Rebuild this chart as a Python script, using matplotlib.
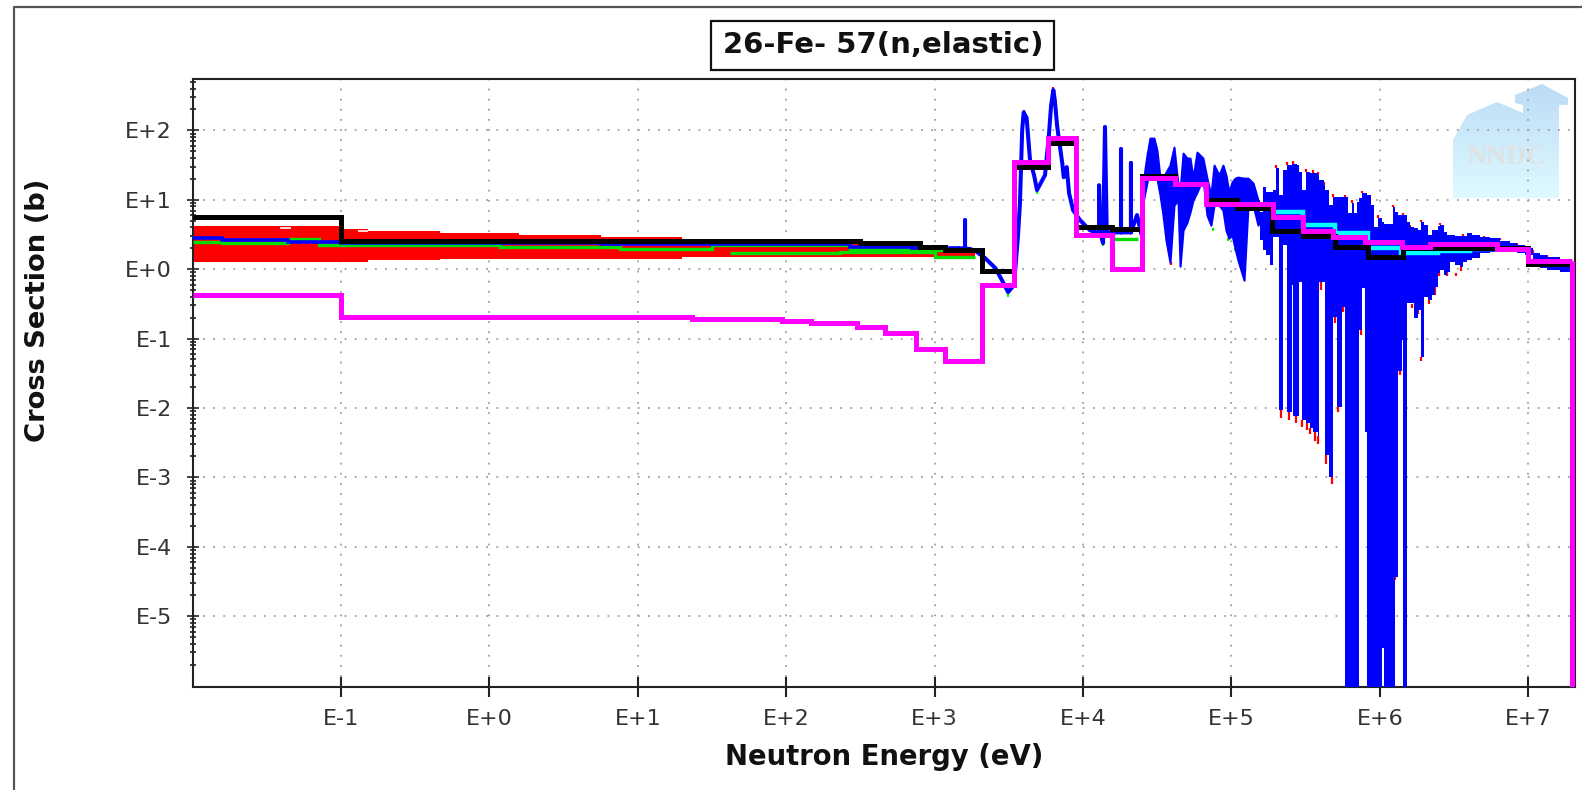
import numpy as np
import matplotlib
matplotlib.use("Agg")
import matplotlib.pyplot as plt
from matplotlib.lines import Line2D
from matplotlib.patches import Polygon, Rectangle

# all values are log10(energy / eV) and log10(cross section / b)
x_ticks = [-1, 0, 1, 2, 3, 4, 5, 6, 7]
x_labels = ["E-1", "E+0", "E+1", "E+2", "E+3", "E+4", "E+5", "E+6", "E+7"]
y_ticks = [-5, -4, -3, -2, -1, 0, 1, 2]
y_labels = ["E-5", "E-4", "E-3", "E-2", "E-1", "E+0", "E+1", "E+2"]

black_edges = [-2, -1, 2.5, 2.9, 3.07, 3.32, 3.535, 3.764, 3.95, 4.195, 4.395, 4.62, 4.83, 5.04, 5.27, 5.48, 5.7, 5.92, 6.157, 7.0, 7.3]
black_vals = [.75, .40, .375, .32, .27, -.03, 1.47, 1.82, .605, .576, 1.34, 1.22, 1.0, .88, .55, .475, .32, .17, .30, .07]

magenta_edges = [-2, -1, 1.365, 1.97, 2.17, 2.48, 2.665, 2.875, 3.07, 3.32, 3.535, 3.764, 3.95, 4.195, 4.395, 4.62, 4.83, 5.28, 5.48, 5.685, 5.9, 6.15, 6.34, 6.79, 7.0, 7.296]
magenta_vals = [-.375, -.69, -.72, -.75, -.78, -.835, -.92, -1.15, -1.325, -.23, 1.54, 1.89, .49, 0, 1.31, 1.225, .935, .75, .55, .46, .39, .32, .36, .29, .115]

cyan_edges = [5.26, 5.48, 5.70, 5.92, 6.14, 6.39, 6.61, 6.79]
cyan_vals = [.82, .63, .52, .30, .23, .26, .29]

red_edges = [-2, -1, -.82, -.33, .2, .75, 1.3, 2.5, 2.9, 3.07, 3.27]
red_top = [.62, .58, .55, .52, .49, .46, .40, .37, .32, .30]
red_bot = [.10, .10, .13, .14, .15, .14, .17, .17, .17, .16]
notch_left = [-1.41, -.885]
notch_right = [-1.34, -.82]
notch_y = [.59, .548]

green_edges = [-2, -1.8, -1.36, -1.15, .07, .88, 1.5, 2.43, 3.0, 3.27]
green_vals = [.389, .375, .432, .346, .317, .288, .346, .288, .274]
green2_edges = [1.62, 2.36, 3.0, 3.27]
green2_vals = [.231, .245, .173]
green3_edges = [4.08, 4.2, 4.37]
green3_vals = [.50, .43]

blue_low_edges = [-2, -1.8, -1.36, -1, .75, 1.5, 2.43, 2.85, 3.17]
blue_low_vals = [.447, .418, .389, .375, .36, .36, .317, .30]

# resolved resonance part, drawn as one line
res_x = [3.17, 3.205, 3.205, 3.205, 3.24, 3.27, 3.34, 3.41, 3.454, 3.495, 3.535, 3.562, 3.575, 3.59, 3.60, 3.62, 3.643,
         3.67, 3.69, 3.744, 3.77, 3.785, 3.80, 3.81, 3.825, 3.832, 3.86, 3.87, 3.89, 3.906, 3.933, 3.98, 4.047, 4.108,
         4.108, 4.115, 4.135, 4.148, 4.16, 4.256, 4.256, 4.256, 4.323, 4.323, 4.323, 4.364, 4.39]
res_y = [.30, .30, .706, .30, .29, .27, .16, .014, -.16, -.33, -.23, .49, .95, 2.0, 2.26, 2.18, 1.57,
         1.355, 1.14, 1.355, 1.93, 2.36, 2.58, 2.435, 2.075, 1.96, 1.53, 1.325, 1.47, 1.095, .85, .706, .56, .52,
         1.21, .53, .375, 2.05, .53, .53, 1.73, .53, .53, 1.53, .53, .78, .53]

# envelope from 25 keV to 150 keV, slanted edges
mid_x = [4.404, 4.431, 4.451, 4.478, 4.498, 4.519, 4.539, 4.559, 4.586, 4.613, 4.64, 4.654, 4.674, 4.701, 4.721, 4.741,
         4.768, 4.808, 4.835, 4.862, 4.883, 4.916, 4.943, 4.963, 4.983, 5.004, 5.024, 5.044, 5.085, 5.112, 5.146, 5.179]
mid_hi = [1.24, 1.643, 1.888, 1.888, 1.715, 1.311, 1.311, 1.398, 1.499, 1.758, 1.21, 1.138, 1.672, 1.60, 1.60, 1.311,
          1.686, 1.60, 1.311, 1.066, 1.499, 1.355, 1.499, 1.355, 1.11, 1.254, 1.311, 1.326, 1.311, 1.311, 1.24, .994]
mid_lo = [.965, 1.254, 1.398, 1.355, 1.311, 1.066, .778, .418, .10, .922, .994, .043, .562, .677, .821, .994,
          1.11, 1.311, .778, .634, .922, .922, .85, .562, .447, .49, .303, .13, -.159, .922, .922, .634]

# envelope of the dense region above 150 keV, square gaps
band_x = [5.179, 5.193, 5.213, 5.233, 5.26, 5.28, 5.30, 5.321, 5.348, 5.375, 5.408, 5.415, 5.442, 5.456, 5.476, 5.503,
          5.53, 5.55, 5.584, 5.59, 5.624, 5.631, 5.658, 5.685, 5.712, 5.745, 5.766, 5.786, 5.813, 5.826, 5.847, 5.86,
          5.88, 5.90, 5.914, 5.941, 5.961, 5.988, 6.015, 6.028, 6.055, 6.089, 6.102, 6.123, 6.15, 6.157, 6.184, 6.204,
          6.231, 6.258, 6.278, 6.299, 6.326, 6.352, 6.373, 6.393, 6.406, 6.433, 6.453, 6.473, 6.507, 6.54, 6.561, 6.588,
          6.622, 6.676, 6.743, 6.81, 6.878, 6.925, 6.979, 7.033, 7.08, 7.127, 7.215, 7.296]
band_hi = [.994, .821, 1.182, 1.11, 1.11, 1.138, 1.455, 1.066, 1.427, 1.50, 1.52, 1.52, 1.50, 1.398, 1.138, 1.398,
           1.383, 1.383, 1.355, 1.283, 1.21, 1.138, .922, 1.038, 1.038, 1.038, 1.038, .807, .951, .807, .965, 1.023,
           1.095, 1.095, 1.066, .922, .605, .735, .677, .648, .648, .893, .821, .778, .778, .778, .677, .605,
           .59, .562, .677, .634, .49, .562, .562, .62, .634, .533, .49, .49, .476, .476, .476, .519,
           .49, .461, .447, .403, .375, .346, .303, .231, .202, .173, .10, .10]
band_lo = [.634, .418, .274, .202, .058, .461, .461, -2.03, .346, -2.06, -.23, -2.12, -2.12, -.187, -2.176, -2.22,
           -2.29, -2.35, -2.406, -.187, -.187, -2.68, -3.0, -.69, -1.99, -.548, -6.02, -6.02, -6.02, -6.02, -6.02, -.88,
           -.274, -2.35, -6.02, -6.02, -6.02, -6.02, -5.46, -6.02, -6.02, -6.02, -4.44, -1.46, -1.023, -6.02, -.49, -.49,
           -.706, -.59, -1.268, -.403, -.447, -.375, -.26, -.058, -.014, -.086, -.043, .10, .058, .03, .10, .13,
           .159, .231, .245, .245, .245, .231, .202, .07, .014, -.014, -.043, -.043]

cap_x = [3.205, 3.60, 3.80, 4.594, 5.30, 5.375, 5.415, 5.45, 5.503, 5.55, 5.584, 5.624, 5.664, 5.685, 5.766, 5.813, 5.88, 5.988,
         6.089, 6.157, 6.204, 6.278, 6.406, 6.561, 6.70, 6.81, 6.925, 7.033, 7.127]
cap_lo = [.706, 2.26, 2.58, .10, 1.455, 1.50, 1.52, 1.40, 1.40, 1.383, 1.355, 1.21, .85, 1.038, 1.038, .951, 1.095, .735,
          .893, .778, .605, .677, .634, .476, .45, .418, .346, .231, .173]
cap_hi = [.74, 2.30, 2.62, .06, 1.50, 1.54, 1.56, 1.44, 1.44, 1.43, 1.40, 1.25, .90, 1.08, 1.07, .99, 1.13, .78,
          .93, .81, .64, .71, .67, .51, .48, .45, .38, .27, .21]

dip_x = [5.334, 5.385, 5.435, 5.476, 5.51, 5.53, 5.56, 5.58, 5.638, 5.675, 5.72, 5.605, 5.695, 5.75, 5.87, 6.105, 6.137,
         6.16, 6.278, 6.22, 6.26, 6.33, 6.373, 6.40, 6.45, 6.51, 6.55]
dip_hi = [-2.03, -2.06, -2.12, -2.176, -2.22, -2.29, -2.35, -2.406, -2.68, -3.0, -1.99, -.187, -.69, -.548, -.88, -4.44, -1.46,
          -1.02, -1.268, -.50, -.59, -.447, -.26, -.058, -.043, -.058, .03]
dip_lo = [-2.14, -2.17, -2.22, -2.27, -2.32, -2.37, -2.47, -2.52, -2.81, -3.1, -2.06, -.30, -.77, -.62, -.95, -4.48, -1.53,
          -1.07, -1.32, -.56, -.65, -.50, -.37, -.10, -.10, -.10, -.02]

green_tip_x = [3.495, 3.69, 4.135, 4.875, 4.98, 5.025]
green_tip_hi = [-.33, 1.14, .375, .59, .447, .30]
green_tip_lo = [-.40, 1.08, .33, .55, .41, .26]


def e(vals):
    return 10.0 ** np.array(vals)


W, H = 1582, 790
fig = plt.figure(figsize=(W / 100, H / 100), dpi=100)
ax = fig.add_axes([193 / W, 1 - 687 / H, (1575 - 193) / W, (687 - 79) / H])
ax.set_xscale("log")
ax.set_yscale("log")
ax.set_xlim(10 ** -1.997, 10 ** 7.315)
ax.set_ylim(10 ** -6.02, 10 ** 2.74)

# NNDC watermark behind the data
house = [(1453, 140), (1467, 115), (1497, 102), (1523, 113), (1523, 105), (1515, 103), (1515, 95), (1542, 84),
         (1568, 98), (1568, 105), (1559, 105), (1559, 198), (1453, 198)]
house_fig = [(px / W, 1 - py / H) for px, py in house]
grad = np.linspace(0, 1, 64)[:, None, None] * np.array([[[0xDE - 0xBC, 0xFA - 0xDC, 0xFF - 0xF6]]]) + np.array([[[0xBC, 0xDC, 0xF6]]])
bg = fig.add_axes([1453 / W, 1 - 198 / H, 115 / W, 114 / H], zorder=-1)
im = bg.imshow(grad / 255, aspect="auto", extent=[0, 1, 0, 1], origin="upper")
bg.axis("off")
clip = Polygon(house_fig, closed=True, transform=fig.transFigure)
im.set_clip_path(clip)
ax.set_zorder(1)
ax.patch.set_alpha(0)
fig.text(1507 / W, 1 - 158 / H, "NNDC", family="Liberation Serif", weight="bold", fontsize=20,
         color="#dfe2e2", ha="center", va="center", zorder=-0.5)

ax.set_xticks(10.0 ** np.array(x_ticks), x_labels)
ax.set_yticks(10.0 ** np.array(y_ticks), y_labels)
ax.minorticks_on()
ax.xaxis.set_minor_locator(matplotlib.ticker.NullLocator())
ax.yaxis.set_minor_locator(matplotlib.ticker.LogLocator(base=10, subs=np.arange(2, 10), numticks=20))
ax.yaxis.set_minor_formatter(matplotlib.ticker.NullFormatter())
ax.tick_params(axis="x", which="major", direction="inout", length=15, width=1.5, labelsize=16, pad=8, color="#222222", labelcolor="#333333")
ax.tick_params(axis="y", which="major", direction="inout", length=8.5, width=1.2, labelsize=16, pad=11, color="#222222", labelcolor="#333333")
ax.tick_params(axis="y", which="minor", direction="inout", length=5, width=1.2, color="#222222")
ax.grid(True, which="major", color="#a0a0a0", lw=1.3, linestyle=(0, (1, 4.6)))
ax.set_axisbelow(True)
for s in ax.spines.values():
    s.set_linewidth(1.5)
    s.set_color("#222222")

# data layers, back to front
ax.fill_between(e(red_edges), e(red_top + red_top[-1:]), e(red_bot + red_bot[-1:]), step="post", color="#ff0000", lw=0, zorder=2)
ax.hlines(e(notch_y), e(notch_left), e(notch_right), color="white", lw=1.2, zorder=2.1)
ax.vlines(e(cap_x), e(cap_lo), e(cap_hi), color="#ff0000", lw=1.6, zorder=2)
ax.vlines(e(dip_x), e(dip_lo), e(dip_hi), color="#ff0000", lw=1.6, zorder=2)
ax.vlines(e(green_tip_x), e(green_tip_lo), e(green_tip_hi), color="#00ff00", lw=1.6, zorder=2)
for edges, vals in [(green_edges, green_vals), (green2_edges, green2_vals), (green3_edges, green3_vals)]:
    ax.stairs(e(vals), e(edges), baseline=None, color="#00e000", lw=2.4, zorder=3)
ax.stairs(e(blue_low_vals), e(blue_low_edges), baseline=None, color="#0000ff", lw=2.6, zorder=4)
ax.plot(e(res_x), e(res_y), color="#0000ff", lw=2.9, zorder=4)
ax.fill_between(e(mid_x), e(mid_hi), e(mid_lo), color="#0000ff", lw=1.5, zorder=4)
ax.fill_between(e(band_x), e(band_hi), e(band_lo), step="post", color="#0000ff", lw=0, zorder=4)
ax.stairs(e(cyan_vals), e(cyan_edges), baseline=None, color="#00ffff", lw=3.2, zorder=5)
ax.stairs(e(black_vals), e(black_edges), baseline=None, color="#000000", lw=3.6, zorder=6)
ax.stairs(e(magenta_vals), e(magenta_edges), baseline=None, color="#ff00ff", lw=3.6, zorder=7)
ax.vlines(e(magenta_edges[-1:]), 10 ** -6.02, e(magenta_vals[-1:]), color="#ff00ff", lw=3.6, zorder=7)

fig.text(884 / W, 1 - 757 / H, "Neutron Energy (eV)", fontsize=19.8, fontweight="bold", color="#111111", ha="center", va="center")
fig.text(38 / W, 1 - 310 / H, "Cross Section (b)", rotation=90, fontsize=19.7, fontweight="bold",
         color="#111111", ha="center", va="center")

# title box and outer frame
fig.add_artist(Rectangle((711 / W, 1 - 69.5 / H), 343 / W, 48.5 / H, transform=fig.transFigure, fc="white", ec="#111111", lw=1.6))
fig.text(883 / W, 1 - 45 / H, "26-Fe- 57(n,elastic)", fontsize=21, color="#111111", ha="center", va="center", fontweight="bold")
fig.add_artist(Line2D([13.5 / W, 13.5 / W, 1], [0, 1 - 6.5 / H, 1 - 6.5 / H], transform=fig.transFigure, color="#555555", lw=1.6))

fig.savefig("out.png", dpi=100)
